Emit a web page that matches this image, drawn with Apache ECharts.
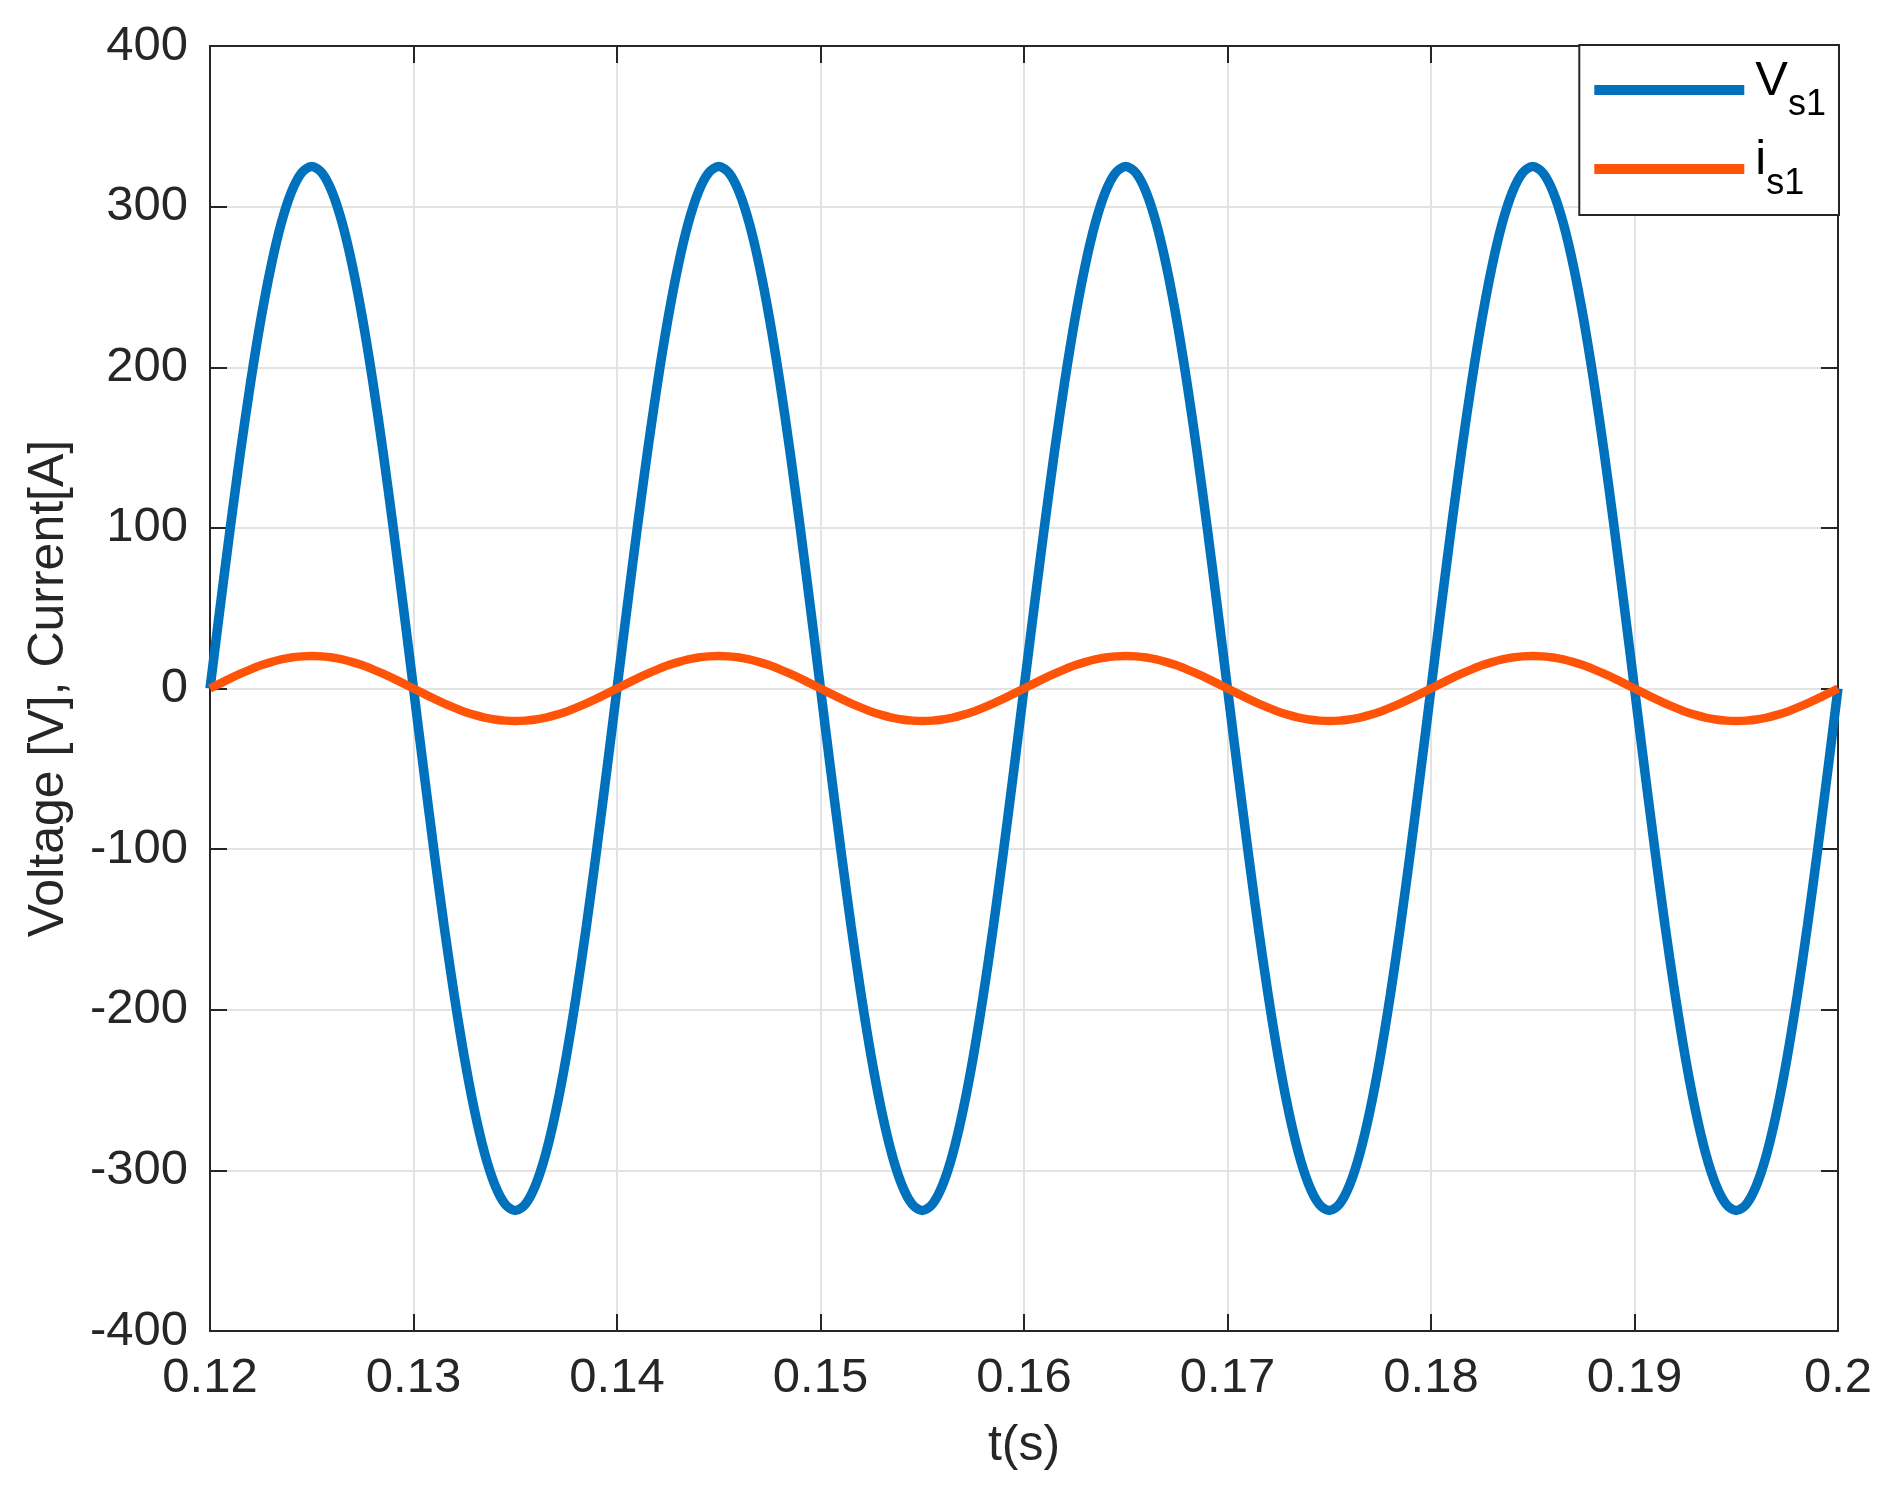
<!DOCTYPE html>
<html>
<head>
<meta charset="utf-8">
<script src="https://cdn.jsdelivr.net/npm/echarts@6/dist/echarts.min.js"></script>
<style>html,body{margin:0;padding:0;background:#fff}#c{width:1894px;height:1506px}</style>
</head>
<body>
<div id="c"></div>
<script>
const timeS = [
  0.1200,0.1205,0.1210,0.1215,0.1220,0.1225,0.1230,0.1235,0.1240,0.1245,
  0.1250,0.1255,0.1260,0.1265,0.1270,0.1275,0.1280,0.1285,0.1290,0.1295,
  0.1300,0.1305,0.1310,0.1315,0.1320,0.1325,0.1330,0.1335,0.1340,0.1345,
  0.1350,0.1355,0.1360,0.1365,0.1370,0.1375,0.1380,0.1385,0.1390,0.1395,
  0.1400,0.1405,0.1410,0.1415,0.1420,0.1425,0.1430,0.1435,0.1440,0.1445,
  0.1450,0.1455,0.1460,0.1465,0.1470,0.1475,0.1480,0.1485,0.1490,0.1495,
  0.1500,0.1505,0.1510,0.1515,0.1520,0.1525,0.1530,0.1535,0.1540,0.1545,
  0.1550,0.1555,0.1560,0.1565,0.1570,0.1575,0.1580,0.1585,0.1590,0.1595,
  0.1600,0.1605,0.1610,0.1615,0.1620,0.1625,0.1630,0.1635,0.1640,0.1645,
  0.1650,0.1655,0.1660,0.1665,0.1670,0.1675,0.1680,0.1685,0.1690,0.1695,
  0.1700,0.1705,0.1710,0.1715,0.1720,0.1725,0.1730,0.1735,0.1740,0.1745,
  0.1750,0.1755,0.1760,0.1765,0.1770,0.1775,0.1780,0.1785,0.1790,0.1795,
  0.1800,0.1805,0.1810,0.1815,0.1820,0.1825,0.1830,0.1835,0.1840,0.1845,
  0.1850,0.1855,0.1860,0.1865,0.1870,0.1875,0.1880,0.1885,0.1890,0.1895,
  0.1900,0.1905,0.1910,0.1915,0.1920,0.1925,0.1930,0.1935,0.1940,0.1945,
  0.1950,0.1955,0.1960,0.1965,0.1970,0.1975,0.1980,0.1985,0.1990,0.1995,
  0.2000];
const vs1 = [
  0,50.8,100.4,147.6,191.0,229.8,262.9,289.6,309.1,321.0,
  325,321.0,309.1,289.6,262.9,229.8,191.0,147.6,100.4,50.8,
  0,-50.8,-100.4,-147.6,-191.0,-229.8,-262.9,-289.6,-309.1,-321.0,
  -325,-321.0,-309.1,-289.6,-262.9,-229.8,-191.0,-147.6,-100.4,-50.8,
  0,50.8,100.4,147.6,191.0,229.8,262.9,289.6,309.1,321.0,
  325,321.0,309.1,289.6,262.9,229.8,191.0,147.6,100.4,50.8,
  0,-50.8,-100.4,-147.6,-191.0,-229.8,-262.9,-289.6,-309.1,-321.0,
  -325,-321.0,-309.1,-289.6,-262.9,-229.8,-191.0,-147.6,-100.4,-50.8,
  0,50.8,100.4,147.6,191.0,229.8,262.9,289.6,309.1,321.0,
  325,321.0,309.1,289.6,262.9,229.8,191.0,147.6,100.4,50.8,
  0,-50.8,-100.4,-147.6,-191.0,-229.8,-262.9,-289.6,-309.1,-321.0,
  -325,-321.0,-309.1,-289.6,-262.9,-229.8,-191.0,-147.6,-100.4,-50.8,
  0,50.8,100.4,147.6,191.0,229.8,262.9,289.6,309.1,321.0,
  325,321.0,309.1,289.6,262.9,229.8,191.0,147.6,100.4,50.8,
  0,-50.8,-100.4,-147.6,-191.0,-229.8,-262.9,-289.6,-309.1,-321.0,
  -325,-321.0,-309.1,-289.6,-262.9,-229.8,-191.0,-147.6,-100.4,-50.8,
  0];
const is1 = [
  0,3.2,6.3,9.2,11.9,14.4,16.4,18.1,19.3,20.0,
  20.3,20.0,19.3,18.1,16.4,14.4,11.9,9.2,6.3,3.2,
  0,-3.2,-6.3,-9.2,-11.9,-14.4,-16.4,-18.1,-19.3,-20.0,
  -20.3,-20.0,-19.3,-18.1,-16.4,-14.4,-11.9,-9.2,-6.3,-3.2,
  0,3.2,6.3,9.2,11.9,14.4,16.4,18.1,19.3,20.0,
  20.3,20.0,19.3,18.1,16.4,14.4,11.9,9.2,6.3,3.2,
  0,-3.2,-6.3,-9.2,-11.9,-14.4,-16.4,-18.1,-19.3,-20.0,
  -20.3,-20.0,-19.3,-18.1,-16.4,-14.4,-11.9,-9.2,-6.3,-3.2,
  0,3.2,6.3,9.2,11.9,14.4,16.4,18.1,19.3,20.0,
  20.3,20.0,19.3,18.1,16.4,14.4,11.9,9.2,6.3,3.2,
  0,-3.2,-6.3,-9.2,-11.9,-14.4,-16.4,-18.1,-19.3,-20.0,
  -20.3,-20.0,-19.3,-18.1,-16.4,-14.4,-11.9,-9.2,-6.3,-3.2,
  0,3.2,6.3,9.2,11.9,14.4,16.4,18.1,19.3,20.0,
  20.3,20.0,19.3,18.1,16.4,14.4,11.9,9.2,6.3,3.2,
  0,-3.2,-6.3,-9.2,-11.9,-14.4,-16.4,-18.1,-19.3,-20.0,
  -20.3,-20.0,-19.3,-18.1,-16.4,-14.4,-11.9,-9.2,-6.3,-3.2,
  0];
const seriesNames = ['Vs1', 'is1'];
const legendMain = {Vs1: 'V', is1: 'i'};
const legendSub = {Vs1: 's1', is1: 's1'};
const xAxisName = 't(s)';
const yAxisName = 'Voltage [V], Current[A]';

const FONT = '"Liberation Sans", Arial, Helvetica, sans-serif';
const AX = '#262626';
const chart = echarts.init(document.getElementById('c'), null, {renderer: 'canvas'});
const baseAxis = {
  axisLine: {show: true, onZero: false, lineStyle: {color: AX, width: 2}},
  axisTick: {show: true, inside: true, length: 17, lineStyle: {color: AX, width: 2}},
  splitLine: {show: false}
};
chart.setOption({
  animation: false,
  backgroundColor: '#fff',
  grid: {left: 210, right: 56, top: 46, bottom: 175, containLabel: false},
  legend: {
    orient: 'vertical',
    right: 55, top: 45,
    padding: [12, 13, 10, 15],
    itemGap: 10,
    itemWidth: 150, itemHeight: 10,
    icon: 'rect',
    backgroundColor: '#fff',
    borderColor: AX, borderWidth: 2, borderRadius: 0,
    data: seriesNames,
    formatter: n => '{m|' + legendMain[n] + '}{s|' + legendSub[n] + '}',
    textStyle: {
      fontFamily: FONT, color: '#000', padding: [0, 0, 0, 6],
      rich: {
        m: {fontFamily: FONT, fontSize: 49, color: '#000', lineHeight: 66, verticalAlign: 'top', padding: [0, 0, 20, 0]},
        s: {fontFamily: FONT, fontSize: 36, color: '#000', lineHeight: 66, verticalAlign: 'bottom', padding: [24, 0, 0, 0]}
      }
    }
  },
  xAxis: [
    Object.assign({}, baseAxis, {
      type: 'value', min: 0.12, max: 0.2, interval: 0.01, position: 'bottom',
      name: xAxisName, nameLocation: 'middle', nameGap: 90,
      nameTextStyle: {fontFamily: FONT, fontSize: 50, color: AX},
      axisLabel: {fontFamily: FONT, fontSize: 49, color: AX, margin: 23,
        formatter: v => String(+v.toFixed(2))},
      splitLine: {show: true, lineStyle: {color: '#e3e3e3', width: 2}}
    }),
    Object.assign({}, baseAxis, {
      type: 'value', min: 0.12, max: 0.2, interval: 0.01, position: 'top',
      axisLabel: {show: false}
    })
  ],
  yAxis: [
    Object.assign({}, baseAxis, {
      type: 'value', min: -400, max: 400, interval: 100, position: 'left',
      name: yAxisName, nameLocation: 'middle', nameGap: 136,
      nameTextStyle: {fontFamily: FONT, fontSize: 50, color: AX},
      axisLabel: {fontFamily: FONT, fontSize: 49, color: AX, margin: 22},
      splitLine: {show: true, lineStyle: {color: '#e3e3e3', width: 2}}
    }),
    Object.assign({}, baseAxis, {
      type: 'value', min: -400, max: 400, interval: 100, position: 'right',
      axisLabel: {show: false}
    })
  ],
  series: [
    {
      name: seriesNames[0], type: 'line', xAxisIndex: 0, yAxisIndex: 0,
      data: timeS.map((t, i) => [t, vs1[i]]),
      showSymbol: false, smooth: 0.3, color: '#0072BD',
      lineStyle: {width: 9.5, color: '#0072BD'}, z: 3
    },
    {
      name: seriesNames[1], type: 'line', xAxisIndex: 0, yAxisIndex: 0,
      data: timeS.map((t, i) => [t, is1[i]]),
      showSymbol: false, smooth: 0.3, color: '#FF5308',
      lineStyle: {width: 8.5, color: '#FF5308'}, z: 4
    }
  ]
});
</script>
</body>
</html>
